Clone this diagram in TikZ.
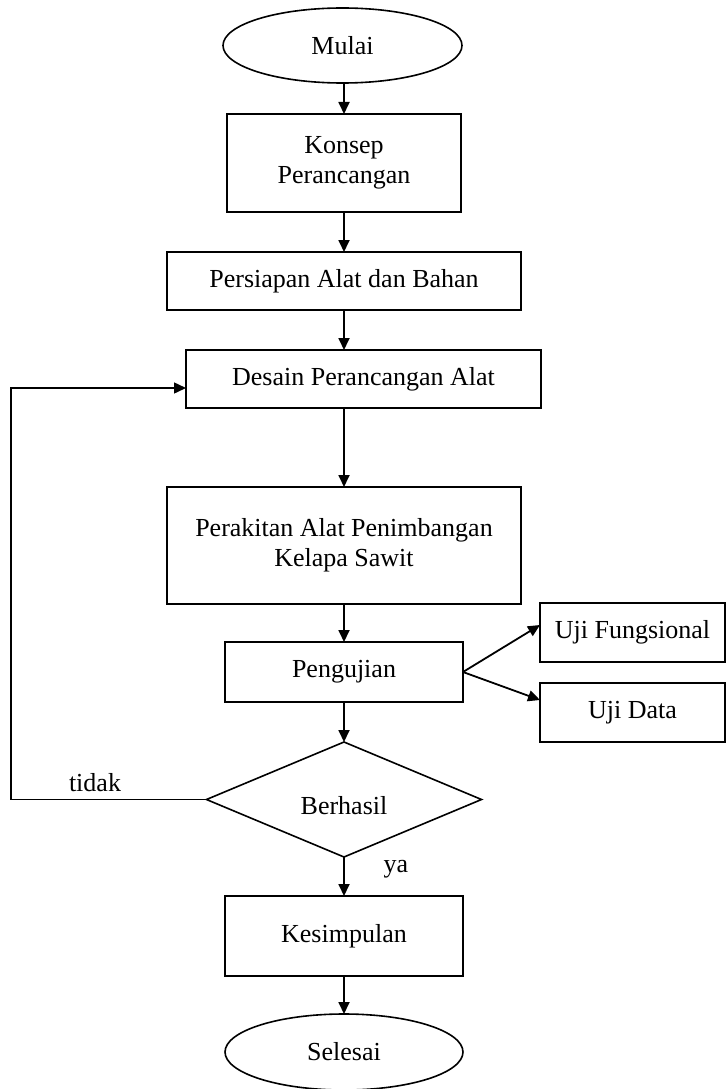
\documentclass[tikz,border=0pt]{standalone}
\usepackage{fontspec}
\setmainfont{Liberation Serif}
\usetikzlibrary{shapes.geometric,arrows.meta,calc}
\begin{document}
\begin{tikzpicture}[x=1pt,y=-1pt,
  every node/.style={font=\fontsize{26}{30}\selectfont, inner sep=0pt, outer sep=0pt},
  boxnode/.style={draw, line width=1.8pt, rectangle, align=center},
  ovalnode/.style={draw, line width=1.6pt, ellipse},
  decnode/.style={draw, line width=1.6pt, diamond, aspect=2.39},
  arr/.style={line width=1.8pt, -{Triangle[length=12pt,width=11pt]}},
  lbl/.style={font=\fontsize{26}{30}\selectfont}]
\useasboundingbox (0,0) rectangle (726,1089);
\node[ovalnode, minimum width=239pt, minimum height=75pt] (mulai) at (342.5,45.5) {Mulai};
\node[boxnode, minimum width=234pt, minimum height=98pt] (konsep) at (344,163) {Konsep\\Perancangan};
\node[boxnode, minimum width=354pt, minimum height=58pt] (persiapan) at (344,281) {Persiapan Alat dan Bahan};
\node[boxnode, minimum width=355pt, minimum height=58pt] (desain) at (363.5,379) {Desain Perancangan Alat};
\node[boxnode, minimum width=354pt, minimum height=117pt] (perakitan) at (344,545.5) {Perakitan Alat Penimbangan\\Kelapa Sawit};
\node[boxnode, minimum width=238pt, minimum height=60pt] (pengujian) at (344,672) {Pengujian};
\node[boxnode, minimum width=185pt, minimum height=59pt] (uf) at (632.5,632.5) {Uji Fungsional};
\node[boxnode, minimum width=185pt, minimum height=59pt] (ud) at (632.5,712.5) {Uji Data};
\node[decnode, minimum width=275pt, minimum height=115pt] (berhasil) at (344,799.5) {};
\node[lbl] (berhasiltxt) at (344,806) {Berhasil};
\node[boxnode, minimum width=238pt, minimum height=80pt] (kesimpulan) at (344,936) {Kesimpulan};
\node[ovalnode, minimum width=238pt, minimum height=76pt] (selesai) at (344,1052) {Selesai};
\coordinate (lp) at (11,388);
\draw[arr] (konsep.north |- mulai.south) -- (konsep.north);
\draw[arr] (konsep.south) -- (konsep.south |- persiapan.north);
\draw[arr] (persiapan.south) -- (persiapan.south |- desain.north);
\draw[arr] (perakitan.north |- desain.south) -- (perakitan.north);
\draw[arr] (perakitan.south) -- (perakitan.south |- pengujian.north);
\draw[arr] (pengujian.east) -- ($(uf.west)+(0,-7.5)$);
\draw[arr] (pengujian.east) -- ($(ud.west)+(0,-12.5)$);
\draw[arr] (pengujian.south) -- (berhasil.north);
\draw[arr] (berhasil.south) -- (kesimpulan.north);
\draw[arr] (kesimpulan.south) -- (selesai.north);
\draw[arr, line width=1.5pt] (berhasil.west) -| (lp) -- (lp -| desain.west);
\node[lbl] (tidak) at (95,783) {tidak};
\node[lbl] (ya) at (396,869) {ya};
\end{tikzpicture}
\end{document}
